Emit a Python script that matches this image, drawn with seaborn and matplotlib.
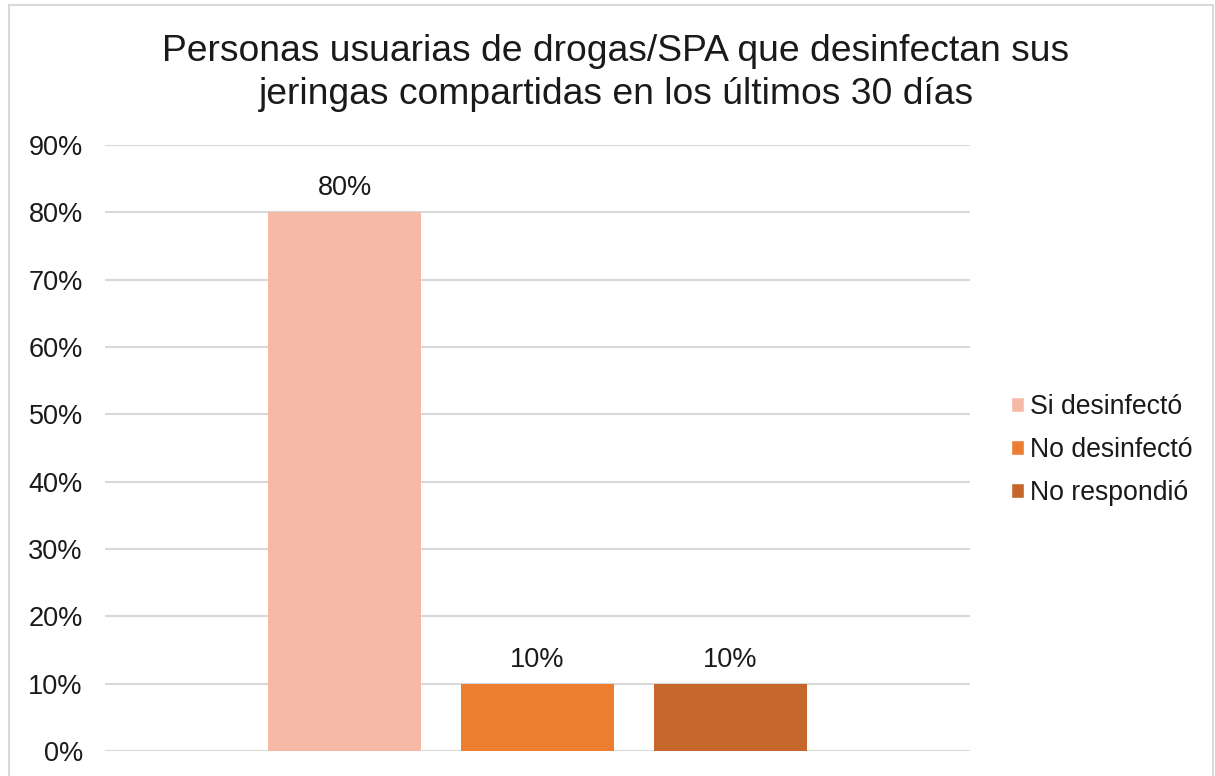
import numpy as np
import pandas as pd
import matplotlib.pyplot as plt
import seaborn as sns
from matplotlib.patches import Rectangle, Patch

# datos
categoria = ["Total"]
series = ["Si desinfectó", "No desinfectó", "No respondió"]
valores = [80, 10, 10]
colores = ["#F5B9A6", "#ED7D31", "#C5662A"]
ticks = [0, 10, 20, 30, 40, 50, 60, 70, 80, 90]

df = pd.DataFrame({"cat": categoria * len(series), "serie": series, "valor": valores})

sns.set_style("white")
plt.rcParams["font.family"] = ["Liberation Sans", "DejaVu Sans"]

fig = plt.figure(figsize=(12.15, 7.76), dpi=100)
ax = fig.add_axes([0.0864, 0.0322, 0.7120, 0.7809])

sns.barplot(data=df, x="cat", y="valor", hue="serie", palette=colores,
            width=0.669, gap=0.21, ax=ax, legend=False, saturation=1, linewidth=0)

for c in ax.containers:
    ax.bar_label(c, labels=[f"{v:.0f}%" for v in c.datavalues], padding=8,
                 fontsize=19.5, color="#1a1a1a")

ax.set_xlim(-0.5, 0.5)
ax.set_ylim(0, 90)
ax.set_yticks(ticks)
ax.set_yticklabels([f"{t}%" for t in ticks], fontsize=19.5, color="#1a1a1a")
ax.tick_params(axis="y", length=0, pad=16)
ax.set_xticks([])
ax.set_xlabel("")
ax.set_ylabel("")
ax.yaxis.grid(True, color="#d9d9d9", linewidth=1.5)
ax.set_axisbelow(True)
for s in ax.spines.values():
    s.set_visible(False)

fig.suptitle("Personas usuarias de drogas/SPA que desinfectan sus\njeringas compartidas en los últimos 30 días",
             fontsize=26.8, y=0.956, x=0.507, linespacing=1.3, color="#1a1a1a")

handles = [Patch(facecolor=col, label=s) for s, col in zip(series, colores)]
fig.legend(handles=handles, loc="center left", bbox_to_anchor=(0.812, 0.42),
           frameon=False, fontsize=19.2, handlelength=0.52, handleheight=0.52,
           handletextpad=0.22, labelspacing=0.64, labelcolor="#1a1a1a")

fig.patches.append(Rectangle((0.007, -0.01), 0.991, 1.003, transform=fig.transFigure,
                             fill=False, edgecolor="#d9d9d9", linewidth=1.5))

plt.savefig("out.png", dpi=100)
